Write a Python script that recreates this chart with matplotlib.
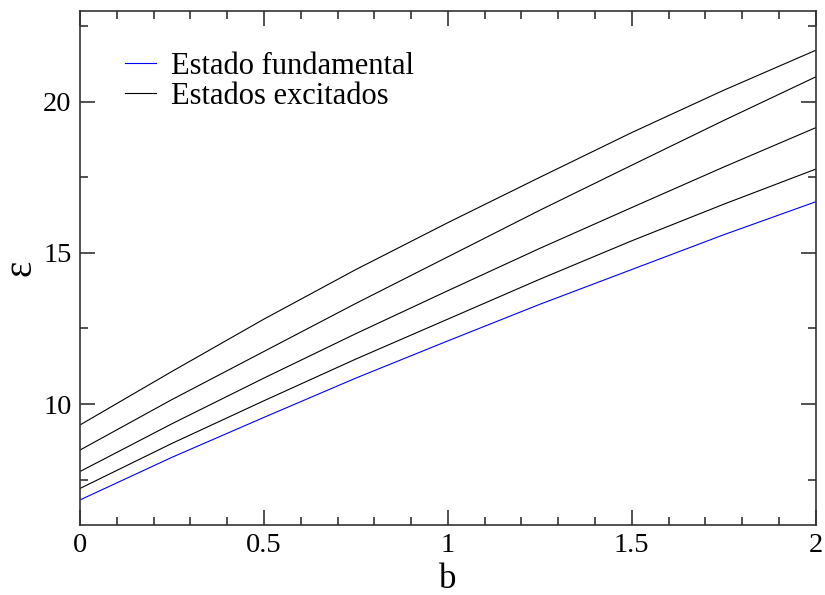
import matplotlib
matplotlib.use("Agg")
import matplotlib.pyplot as plt
from matplotlib.ticker import MultipleLocator

# energies vs b: ground state and the first excited states
b = [0.0, 0.25, 0.5, 0.75, 1.0, 1.25, 1.5, 1.75, 2.0]
fundamental = [6.83, 8.24, 9.56, 10.86, 12.09, 13.30, 14.45, 15.60, 16.69]
excited_1 = [7.21, 8.70, 10.11, 11.49, 12.81, 14.13, 15.40, 16.61, 17.77]
excited_2 = [7.77, 9.35, 10.86, 12.33, 13.75, 15.15, 16.50, 17.84, 19.14]
excited_3 = [8.48, 10.15, 11.74, 13.33, 14.87, 16.41, 17.90, 19.38, 20.82]
excited_4 = [9.31, 11.08, 12.81, 14.45, 16.00, 17.50, 18.98, 20.38, 21.70]

plt.rcParams["font.family"] = ["Liberation Serif", "DejaVu Serif"]

fig = plt.figure(figsize=(8.25, 5.95), dpi=100)
ax = fig.add_axes([0.097, 0.1176, 0.8917, 0.8639])

ax.plot(b, fundamental, color="#0000ff", lw=0.8, label="Estado fundamental")
ax.plot(b, excited_1, color="black", lw=0.8, label="Estados excitados")
for ys in (excited_2, excited_3, excited_4):
    ax.plot(b, ys, color="black", lw=0.8)

ax.set_xlim(0, 2)
ax.set_ylim(6, 23)
ax.xaxis.set_major_locator(MultipleLocator(0.5))
ax.xaxis.set_minor_locator(MultipleLocator(0.1))
ax.yaxis.set_major_locator(MultipleLocator(5))
ax.yaxis.set_minor_locator(MultipleLocator(2.5))
ax.xaxis.set_major_formatter(plt.FuncFormatter(lambda v, p: f"{v:g}"))

ax.tick_params(which="both", direction="in", top=True, right=True,
               width=1.1, color="#222222", labelsize=20.5, pad=6)
ax.tick_params(which="major", length=10.8)
ax.tick_params(which="minor", length=5.5)
for s in ax.spines.values():
    s.set_linewidth(1.2)
    s.set_color("#333333")

# x label placed by hand, just under the tick labels
fig.text(0.5427, 7 / 595, "b", fontsize=25, ha="center", va="baseline")
ax.set_ylabel("ε", fontsize=28, labelpad=3)

ax.legend(loc="upper left", bbox_to_anchor=(0.045, 0.945), frameon=False,
          fontsize=22, handlelength=1.0, handletextpad=0.5,
          labelspacing=0.05, borderaxespad=0)

fig.savefig("out.png", dpi=100)
